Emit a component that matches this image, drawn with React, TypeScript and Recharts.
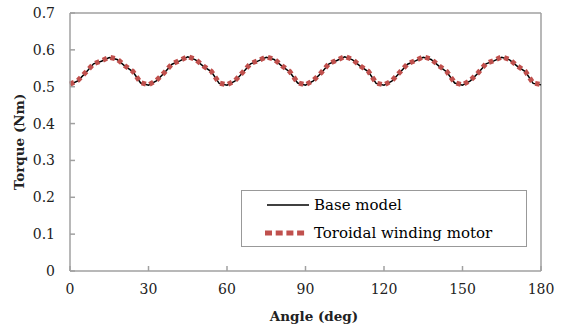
import React from 'react';
import { LineChart, Line, XAxis, YAxis, ReferenceLine, Legend } from 'recharts';

const angles = [
  0, 3, 6, 9, 12, 15, 18, 21, 24, 27,
  30, 33, 36, 39, 42, 45, 48, 51, 54, 57,
  60, 63, 66, 69, 72, 75, 78, 81, 84, 87,
  90, 93, 96, 99, 102, 105, 108, 111, 114, 117,
  120, 123, 126, 129, 132, 135, 138, 141, 144, 147,
  150, 153, 156, 159, 162, 165, 168, 171, 174, 177,
  180,
];

const baseModel = [
  0.506, 0.516, 0.538, 0.562, 0.569, 0.579, 0.574, 0.556, 0.541, 0.510,
  0.504, 0.516, 0.537, 0.561, 0.570, 0.581, 0.573, 0.555, 0.541, 0.509,
  0.504, 0.515, 0.538, 0.562, 0.570, 0.580, 0.574, 0.556, 0.540, 0.510,
  0.504, 0.516, 0.537, 0.562, 0.571, 0.581, 0.573, 0.555, 0.541, 0.509,
  0.504, 0.515, 0.538, 0.561, 0.570, 0.580, 0.574, 0.556, 0.540, 0.510,
  0.504, 0.516, 0.537, 0.562, 0.570, 0.580, 0.573, 0.555, 0.541, 0.509,
  0.505,
];

const toroidalMotor = [
  0.507, 0.517, 0.539, 0.562, 0.570, 0.580, 0.575, 0.557, 0.542, 0.511,
  0.505, 0.517, 0.538, 0.562, 0.571, 0.582, 0.574, 0.556, 0.542, 0.510,
  0.505, 0.516, 0.539, 0.563, 0.571, 0.581, 0.575, 0.557, 0.541, 0.511,
  0.505, 0.517, 0.538, 0.563, 0.572, 0.582, 0.574, 0.556, 0.542, 0.510,
  0.505, 0.516, 0.539, 0.562, 0.571, 0.581, 0.575, 0.557, 0.541, 0.511,
  0.505, 0.517, 0.538, 0.563, 0.571, 0.581, 0.574, 0.556, 0.542, 0.510,
  0.506,
];

const xTicks = [0, 30, 60, 90, 120, 150, 180];
const yTicks = [0, 0.1, 0.2, 0.3, 0.4, 0.5, 0.6, 0.7];

const seriesNames = ['Base model', 'Toroidal winding motor'];

const data = angles.map((a, i) => ({
  angle: a,
  base: baseModel[i],
  toroidal: toroidalMotor[i],
}));

const FONT = '"DejaVu Serif", serif';
const AXIS = '#a0a0a0';
const RED = '#c0504d';

function LegendBox() {
  return (
    <svg width={286} height={57} style={{ display: 'block' }}>
      <rect x={0.5} y={0.5} width={285} height={56} fill="#fff" stroke="#999" />
      <line x1={26} x2={68} y1={15} y2={15} stroke="#000" strokeWidth={1.5} />
      <text x={73} y={20} fontFamily={FONT} fontSize={15} fill="#000">{seriesNames[0]}</text>
      <line x1={24} x2={66} y1={43} y2={43} stroke={RED} strokeWidth={5} strokeDasharray="7 3.7" />
      <text x={73} y={48} fontFamily={FONT} fontSize={15} fill="#000">{seriesNames[1]}</text>
    </svg>
  );
}

export default function App() {
  return (
    <div style={{ position: 'absolute', left: 0, top: 0, width: 561, height: 328, background: '#fff' }}>
      <LineChart width={561} height={328} data={data} margin={{ top: 13, right: 20, left: 0, bottom: 0 }}>
        <XAxis
          dataKey="angle"
          type="number"
          domain={[0, 180]}
          ticks={xTicks}
          stroke={AXIS}
          strokeWidth={1.5}
          tickSize={-5}
          tickMargin={18}
          height={57}
          tick={{ fill: '#222', fontFamily: FONT, fontSize: 14 }}
          label={{
            content: () => (
              <text x={314} y={321} textAnchor="middle" fontFamily={FONT} fontSize={13.5} fontWeight="bold" fill="#222">
                Angle (deg)
              </text>
            ),
          }}
        />
        <YAxis
          type="number"
          domain={[0, 0.7]}
          ticks={yTicks}
          stroke={AXIS}
          strokeWidth={1.5}
          tickSize={-5}
          tickMargin={20}
          width={70}
          tickFormatter={(v: number) => (v === 0 ? '0' : v.toFixed(1))}
          tick={{ fill: '#222', fontFamily: FONT, fontSize: 14 }}
          label={{
            content: () => (
              <text
                x={19}
                y={142}
                transform="rotate(-90 19 142)"
                textAnchor="middle"
                dominantBaseline="central"
                fontFamily={FONT}
                fontSize={13.5}
                fontWeight="bold"
                fill="#222"
              >
                Torque (Nm)
              </text>
            ),
          }}
        />
        <ReferenceLine y={0.7} stroke={AXIS} strokeWidth={1.5} />
        <ReferenceLine x={180} stroke={AXIS} strokeWidth={1.5} />
        <Line
          dataKey="base"
          name={seriesNames[0]}
          stroke="#000"
          strokeWidth={1.5}
          dot={false}
          type="linear"
          isAnimationActive={false}
        />
        <Line
          dataKey="toroidal"
          name={seriesNames[1]}
          stroke={RED}
          strokeWidth={5}
          strokeDasharray="4.5 3.8"
          dot={false}
          type="linear"
          isAnimationActive={false}
        />
        <Legend
          layout="vertical"
          align="center"
          verticalAlign="middle"
          content={() => <LegendBox />}
          wrapperStyle={{ position: 'absolute', left: 241, top: 190, width: 286, height: 57 }}
        />
      </LineChart>
    </div>
  );
}
